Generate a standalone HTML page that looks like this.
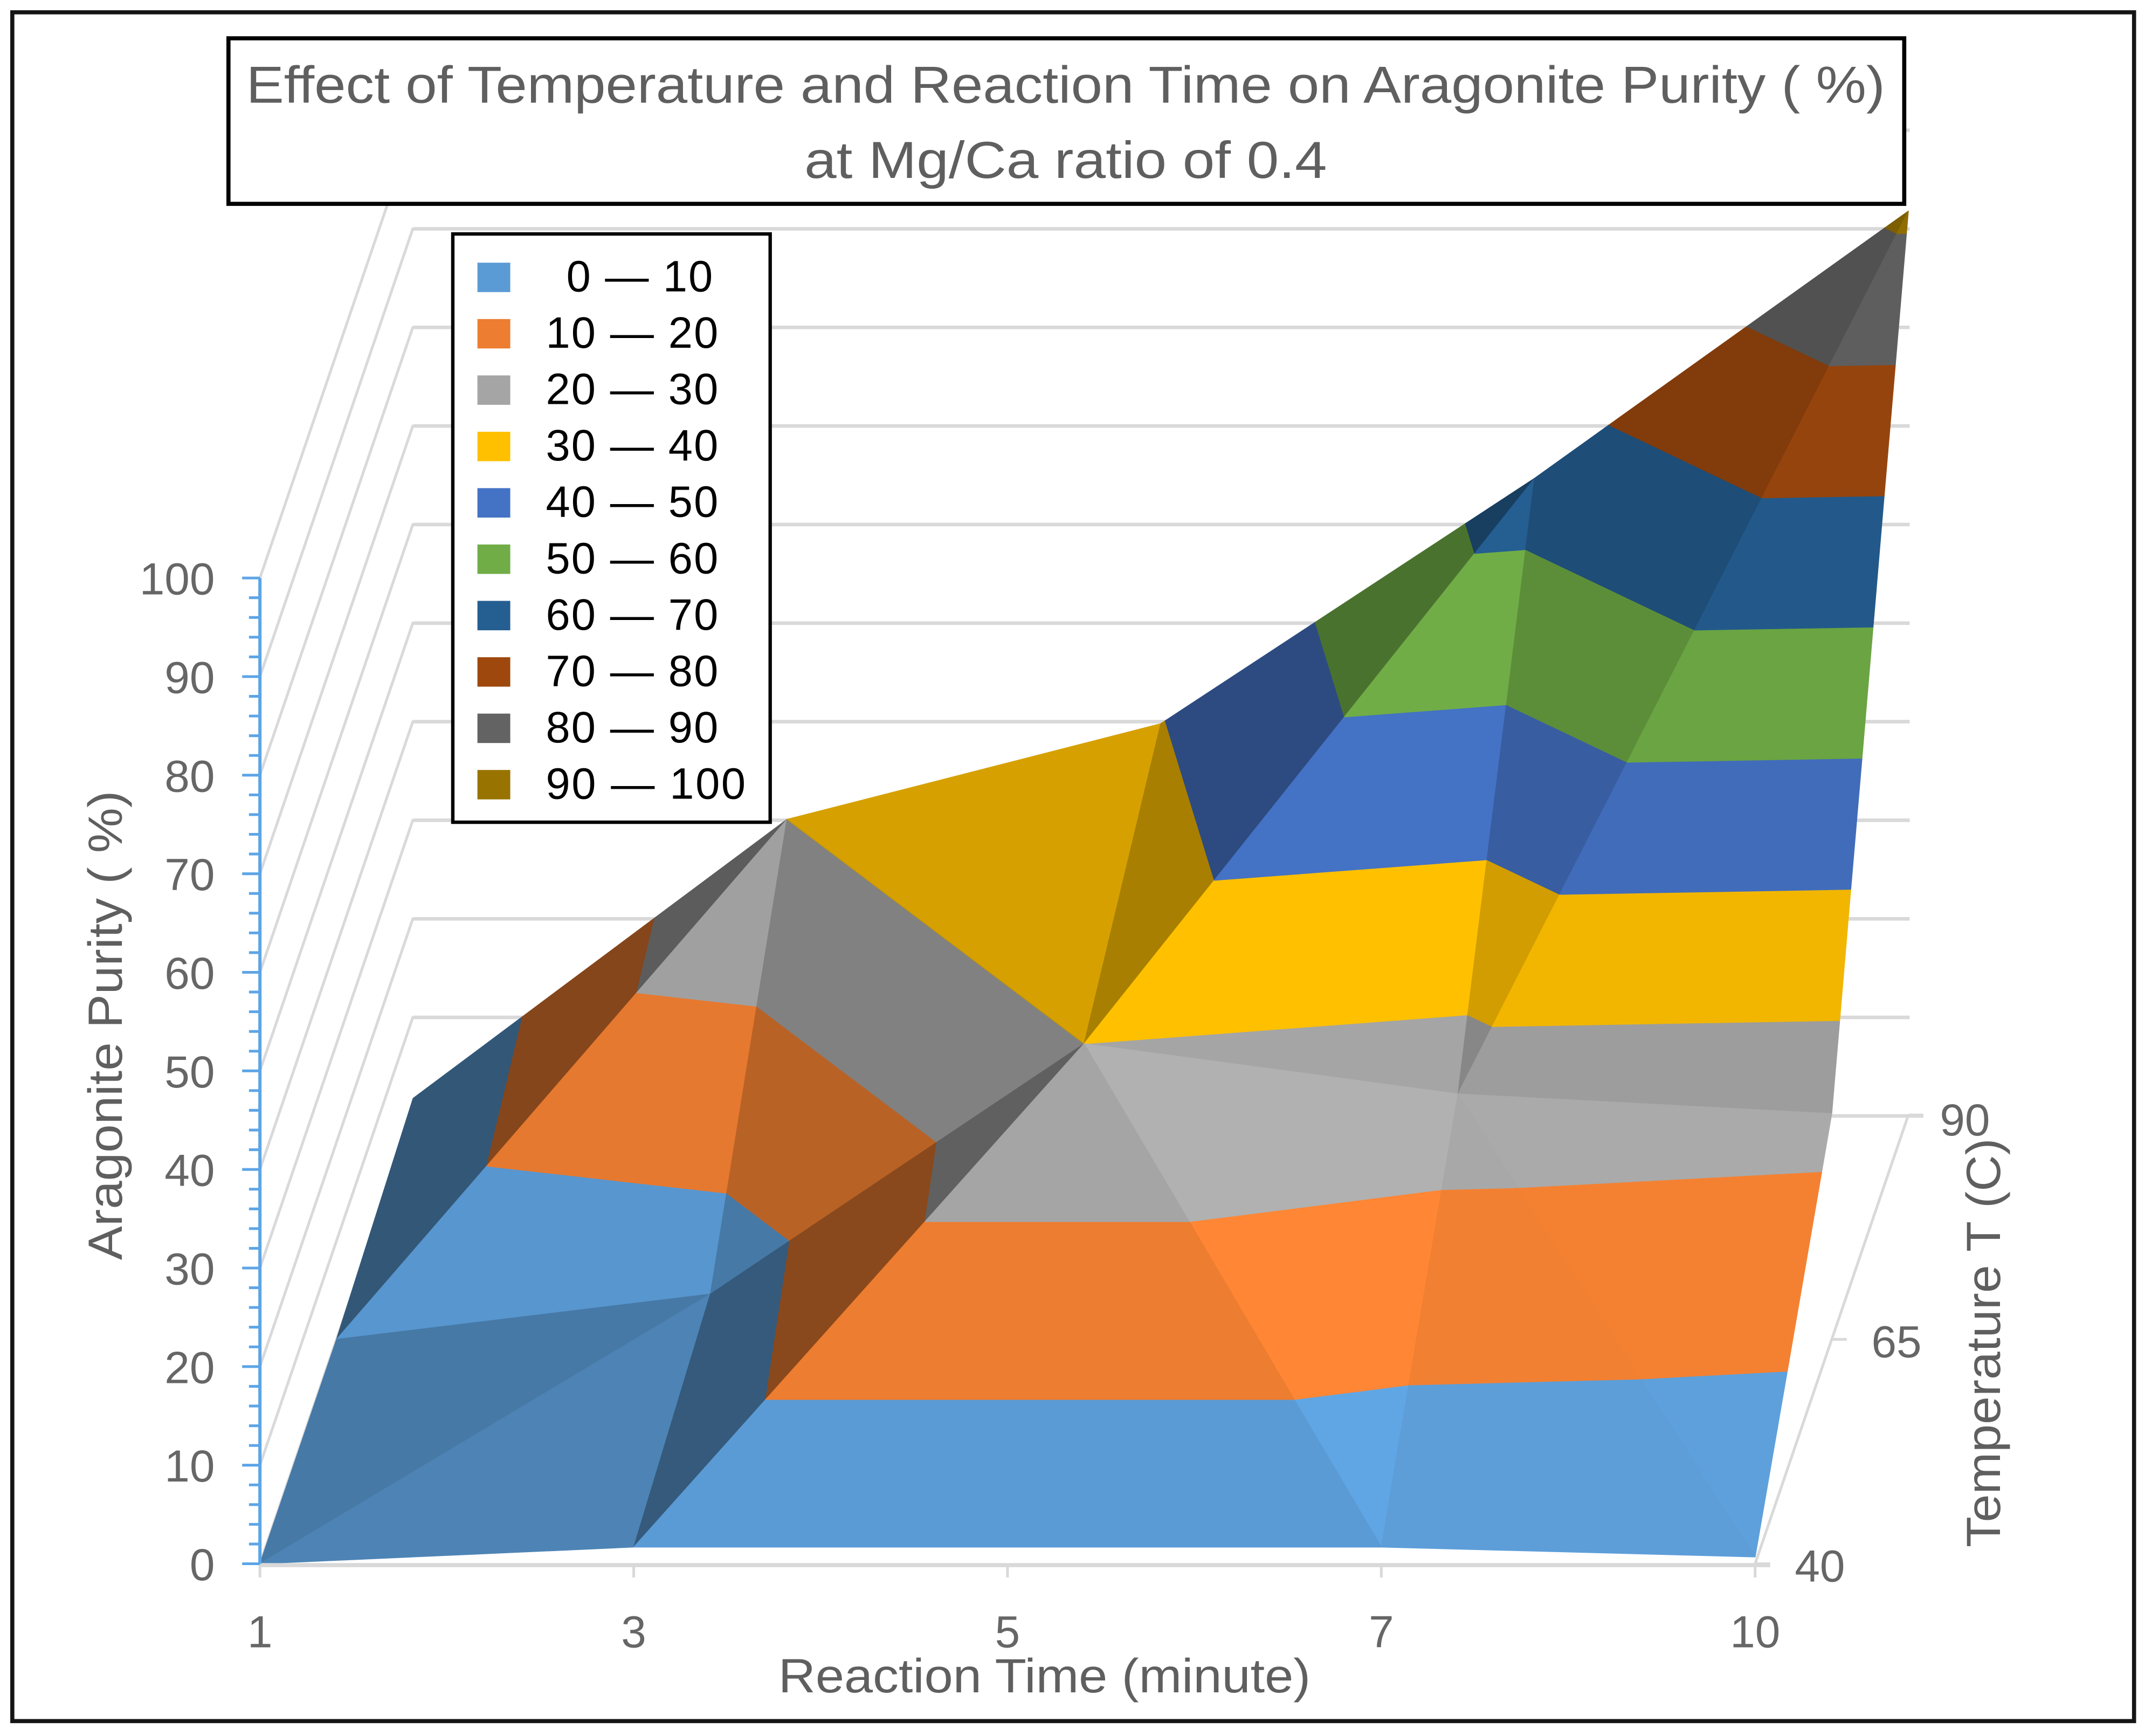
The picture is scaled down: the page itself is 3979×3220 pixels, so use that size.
<!DOCTYPE html>
<html lang="en">
<head>
<meta charset="utf-8">
<title>Aragonite Purity Surface Chart</title>
<style>
html,body{margin:0;padding:0;background:#fff;}
svg{display:block;}
text{font-family:"Liberation Sans",sans-serif;}
.axis-text{fill:#666;font-size:33px;}
.axis-title{fill:#5f5f5f;font-size:35px;}
.legend-text{fill:#000;font-size:32px;}
</style>
</head>
<body>
<svg id="chart" xmlns="http://www.w3.org/2000/svg" width="3979" height="3220" viewBox="0 0 1568 1268.9">
  <rect x="0" y="0" width="1568" height="1269" fill="#fff"/>
  <rect x="9" y="9" width="1551" height="1249" fill="#fff" stroke="#151515" stroke-width="3"/>
  <g id="gridlines"></g>
  <g id="surface"></g>
  <g id="axes"></g>

  <text class="axis-title" x="569" y="1237" textLength="389" lengthAdjust="spacingAndGlyphs">Reaction Time (minute)</text>
  <text class="axis-title" transform="translate(89,921) rotate(-90)" textLength="343" lengthAdjust="spacingAndGlyphs">Aragonite Purity ( %)</text>
  <text class="axis-title" transform="translate(1462,1131) rotate(-90)" textLength="299" lengthAdjust="spacingAndGlyphs">Temperature T (C)</text>

  <g>
    <rect x="167" y="28" width="1225" height="121" fill="#fff" stroke="#000" stroke-width="3"/>
    <text x="180" y="75" font-size="38" fill="#5f5f5f" textLength="1198" lengthAdjust="spacingAndGlyphs">Effect of Temperature and Reaction Time on Aragonite Purity ( %)</text>
    <text x="588" y="130" font-size="38" fill="#5f5f5f" textLength="382" lengthAdjust="spacingAndGlyphs">at Mg/Ca ratio of 0.4</text>
  </g>

  <g>
    <rect x="331" y="171" width="232" height="430" fill="#fff" stroke="#000" stroke-width="2.5"/>
    <rect x="349" y="192" width="24" height="21.5" fill="#5B9BD5"/>
    <text class="legend-text" x="414" y="213" textLength="107">0 — 10</text>
    <rect x="349" y="233.2" width="24" height="21.5" fill="#ED7D31"/>
    <text class="legend-text" x="399" y="254.2" textLength="126">10 — 20</text>
    <rect x="349" y="274.4" width="24" height="21.5" fill="#A5A5A5"/>
    <text class="legend-text" x="399" y="295.4" textLength="126">20 — 30</text>
    <rect x="349" y="315.6" width="24" height="21.5" fill="#FFC000"/>
    <text class="legend-text" x="399" y="336.6" textLength="126">30 — 40</text>
    <rect x="349" y="356.8" width="24" height="21.5" fill="#4472C4"/>
    <text class="legend-text" x="399" y="377.8" textLength="126">40 — 50</text>
    <rect x="349" y="398" width="24" height="21.5" fill="#70AD47"/>
    <text class="legend-text" x="399" y="419" textLength="126">50 — 60</text>
    <rect x="349" y="439.2" width="24" height="21.5" fill="#255E91"/>
    <text class="legend-text" x="399" y="460.2" textLength="126">60 — 70</text>
    <rect x="349" y="480.4" width="24" height="21.5" fill="#9E480E"/>
    <text class="legend-text" x="399" y="501.4" textLength="126">70 — 80</text>
    <rect x="349" y="521.6" width="24" height="21.5" fill="#636363"/>
    <text class="legend-text" x="399" y="542.6" textLength="126">80 — 90</text>
    <rect x="349" y="562.8" width="24" height="21.5" fill="#997300"/>
    <text class="legend-text" x="399" y="583.8" textLength="146">90 — 100</text>
  </g>
</svg>
<script>
// ---- chart data ----
const reactionTimes = ['1', '3', '5', '7', '10'];
const temperatures = [40, 65, 90];
const purityAtT40 = [0, 1.7, 1.7, 1.7, 0.7];
const purityAtT65 = [0, 4.6, 30, 24.9, 22.9];
const purityAtT90 = [1.7, 30, 39.7, 64.6, 91.7];
const purityTicks = [0, 10, 20, 30, 40, 50, 60, 70, 80, 90, 100];
const bandBounds = [0, 10, 20, 30, 40, 50, 60, 70, 80, 90, 100];

// ---- styling of the bands and facets ----
const bandColors = ['#5B9BD5', '#ED7D31', '#A5A5A5', '#FFC000', '#4472C4', '#70AD47', '#255E91', '#9E480E', '#636363', '#997300'];
// How each grid cell folds: 'fl' = diagonal from front-left to back-right, 'fr' = front-right to back-left.
// Brightness of the two facets of each cell, [row][time-interval].
const cellFold = [
  ['fl', 'fl', 'fr', 'fr'],
  ['fl', 'fr', 'fl', 'fl']
];
const facetLight = [
  [[0.85, 0.78], [1.0, 0.58], [1.0, 1.07], [1.02, 1.03]],
  [[0.97, 0.56], [0.78, 0.84], [1.0, 0.66], [0.95, 0.82]]
];

// ---- axis functions ----
const purityRows = [purityAtT40, purityAtT65, purityAtT90];
const axisLeft = 190, axisBottom = 1143, timeStep = 273.25, unitHeight = 7.205, depthX = 112, depthY = 328;
function depthOf(temp) {
  return (temp - temperatures[0]) / (temperatures[temperatures.length - 1] - temperatures[0]);
}
function project(timeIndex, depth, purity) {
  return [axisLeft + timeIndex * timeStep + depthX * depth,
          axisBottom - purity * unitHeight - depthY * depth];
}
const NS = 'http://www.w3.org/2000/svg';
function make(tag, parent, attrs, text) {
  const el = document.createElementNS(NS, tag);
  for (const k in attrs) el.setAttribute(k, attrs[k]);
  if (text !== undefined) el.textContent = text;
  parent.appendChild(el);
  return el;
}
function shade(hex, f) {
  const n = parseInt(hex.slice(1), 16);
  const c = [(n >> 16) & 255, (n >> 8) & 255, n & 255].map(v => Math.min(255, Math.round(v * f)));
  return 'rgb(' + c.join(',') + ')';
}

// ---- gridlines ----
const gridGroup = document.getElementById('gridlines');
const gridColor = '#D9D9D9';
purityTicks.forEach(function (p) {
  const front = project(0, 0, p);
  const back = project(0, 1, p);
  const right = project(reactionTimes.length - 1, 1, p);
  const wall = make('line', gridGroup, {x1: front[0], y1: front[1], x2: back[0], y2: back[1], stroke: gridColor, 'stroke-width': 2});
  
  
  const line = make('line', gridGroup, {x1: back[0], y1: back[1] + 0.7, x2: right[0] + (p === 0 ? 11 : 1), y2: right[1] + 0.7, stroke: gridColor, 'stroke-width': 2.6});
  
  
});

// ---- surface: each facet is clipped into the value bands ----
function clipAbove(poly, level, keepAbove) {
  const out = [];
  for (let i = 0; i < poly.length; i++) {
    const a = poly[i], b = poly[(i + 1) % poly.length];
    const aIn = keepAbove ? a[2] >= level : a[2] <= level;
    const bIn = keepAbove ? b[2] >= level : b[2] <= level;
    if (aIn) out.push(a);
    if (aIn !== bIn) {
      const t = (level - a[2]) / (b[2] - a[2]);
      out.push([a[0] + (b[0] - a[0]) * t, a[1] + (b[1] - a[1]) * t, level]);
    }
  }
  return out;
}
function drawFacet(group, tri, light) {
  for (let b = 0; b < bandColors.length; b++) {
    let poly = clipAbove(tri, bandBounds[b], true);
    if (poly.length) poly = clipAbove(poly, bandBounds[b + 1], false);
    if (poly.length < 3) continue;
    const pts = poly.map(function (v) {
      const s = project(v[0], v[1], v[2]);
      return s[0].toFixed(1) + ',' + s[1].toFixed(1);
    }).join(' ');
    const color = shade(bandColors[b], light);
    const el = make('polygon', group, {points: pts, fill: color, stroke: color, 'stroke-width': 0.6, 'stroke-linejoin': 'round'});
    
    
  }
}
const surfaceGroup = document.getElementById('surface');
for (let r = temperatures.length - 2; r >= 0; r--) {
  const d0 = depthOf(temperatures[r]), d1 = depthOf(temperatures[r + 1]);
  for (let c = 0; c < reactionTimes.length - 1; c++) {
    const FL = [c, d0, purityRows[r][c]];
    const FR = [c + 1, d0, purityRows[r][c + 1]];
    const BL = [c, d1, purityRows[r + 1][c]];
    const BR = [c + 1, d1, purityRows[r + 1][c + 1]];
    const lights = facetLight[r][c];
    if (cellFold[r][c] === 'fl') {
      drawFacet(surfaceGroup, [FL, BR, BL], lights[1]);
      drawFacet(surfaceGroup, [FL, FR, BR], lights[0]);
    } else {
      drawFacet(surfaceGroup, [FR, BR, BL], lights[1]);
      drawFacet(surfaceGroup, [FL, FR, BL], lights[0]);
    }
  }
}

// ---- axes ----
const axesGroup = document.getElementById('axes');
const lastTime = reactionTimes.length - 1;
const frontStart = project(0, 0, 0), frontEnd = project(lastTime, 0, 0), depthEnd = project(lastTime, 1, 0);
const frontLine = make('line', axesGroup, {x1: frontStart[0], y1: frontStart[1] + 1, x2: frontEnd[0] + 11, y2: frontEnd[1] + 1, stroke: gridColor, 'stroke-width': 3});


const depthLine = make('line', axesGroup, {x1: frontEnd[0], y1: frontEnd[1], x2: depthEnd[0], y2: depthEnd[1], stroke: gridColor, 'stroke-width': 2});



reactionTimes.forEach(function (label, i) {
  const p = project(i, 0, 0);
  const tick = make('line', axesGroup, {x1: p[0], y1: p[1], x2: p[0], y2: p[1] + 10, stroke: gridColor, 'stroke-width': 2});
  
  
  const t = make('text', axesGroup, {x: p[0], y: p[1] + 61, 'text-anchor': 'middle', 'class': 'axis-text'}, label);
  
  
});

temperatures.forEach(function (temp) {
  const d = depthOf(temp);
  const p = project(lastTime, d, 0);
  const tick = make('line', axesGroup, {x1: p[0], y1: p[1], x2: p[0] + 11, y2: p[1], stroke: gridColor, 'stroke-width': 2});
  
  
  const t = make('text', axesGroup, {x: p[0] + (d === 1 ? 23 : 29), y: p[1] + (d === 1 ? 15 : 13), 'class': 'axis-text'}, String(temp));
  
  
});

const axisBlue = '#5DA5E6';
const valueTop = purityTicks[purityTicks.length - 1];
const valueAxis = make('line', axesGroup, {x1: axisLeft, y1: project(0, 0, 0)[1], x2: axisLeft, y2: project(0, 0, valueTop)[1], stroke: axisBlue, 'stroke-width': 2.4});


for (let v = 0; v <= valueTop; v += 2) {
  const y = project(0, 0, v)[1];
  const major = v % 10 === 0;
  const tick = make('line', axesGroup, {x1: axisLeft - (major ? 13 : 8), y1: y, x2: axisLeft, y2: y, stroke: axisBlue, 'stroke-width': 2});
  
  
}
purityTicks.forEach(function (v) {
  const y = project(0, 0, v)[1];
  const t = make('text', axesGroup, {x: 157, y: y + 12, 'text-anchor': 'end', 'class': 'axis-text'}, String(v));
  
  
});
</script>
</body>
</html>
